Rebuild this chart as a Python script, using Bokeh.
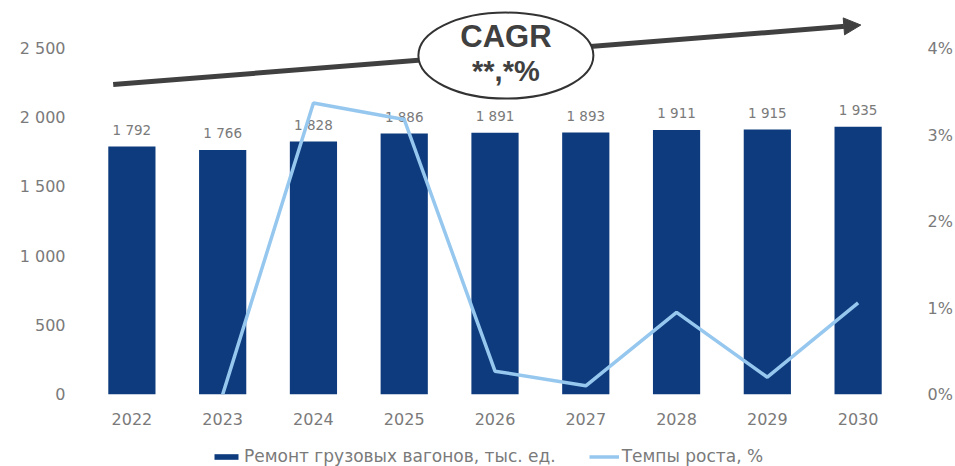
from bokeh.plotting import figure
from bokeh.layouts import column
from bokeh.models import (Range1d, LinearAxis, FixedTicker, Legend, LegendItem,
                          Arrow, NormalHead, ColumnDataSource)
from bokeh.core.properties import value
from bokeh.embed import file_html
from bokeh.resources import INLINE

years = ["2022", "2023", "2024", "2025", "2026", "2027", "2028", "2029", "2030"]
repairs = [1792, 1766, 1828, 1886, 1891, 1893, 1911, 1915, 1935]
growth = [float("nan"), 0.0, 3.37, 3.18, 0.27, 0.10, 0.95, 0.20, 1.06]
left_ticks = [0, 500, 1000, 1500, 2000, 2500]
right_ticks = [0, 1, 2, 3, 4]
bar_name = "Ремонт грузовых вагонов, тыс. ед."
line_name = "Темпы роста, %"
cagr_title = "CAGR"
cagr_value = "**,*%"

BAR = "#0d3b7d"
LINE = "#96c7ee"
GREY = "#7a7a7a"
DARK = "#404040"
FONT = "DejaVu Sans"


def fmt(v):
    return f"{v:,}".replace(",", " ")


p = figure(x_range=years, y_range=Range1d(0, 2775), width=955, height=444,
           output_backend="svg", toolbar_location=None,
           min_border_left=86, min_border_right=43, min_border_top=10,
           min_border_bottom=50)
p.outline_line_color = None
p.xgrid.grid_line_color = None
p.ygrid.grid_line_color = None
p.x_range.range_padding = 0

src = ColumnDataSource(dict(x=years, y=repairs, g=growth,
                            lbl=[fmt(v) for v in repairs]))
bars = p.vbar(x="x", top="y", width=0.52, source=src, fill_color=BAR,
              line_color=None)
p.text(x="x", y="y", text="lbl", source=src, text_align="center",
       text_baseline="middle", y_offset=-17, text_color=GREY,
       text_font=value(FONT), text_font_size="13.5px")

p.extra_y_ranges = {"pct": Range1d(0, 4.44)}
ln = p.line(x="x", y="g", source=src, y_range_name="pct", line_color=LINE,
            line_width=3.5)

ya = p.yaxis[0]
ya.ticker = FixedTicker(ticks=left_ticks)
ya.major_label_overrides = {t: fmt(t) for t in left_ticks}
ra = LinearAxis(y_range_name="pct", ticker=FixedTicker(ticks=right_ticks),
                major_label_overrides={t: f"{t}%" for t in right_ticks})
p.add_layout(ra, "right")

for ax in [ya, ra, p.xaxis[0]]:
    ax.axis_line_color = None
    ax.major_tick_line_color = None
    ax.minor_tick_line_color = None
    ax.major_label_text_color = GREY
    ax.major_label_text_font = FONT
    ax.major_label_text_font_size = "16px"
ya.major_label_standoff = 15
ra.major_label_standoff = 18
p.xaxis[0].major_label_standoff = 12

# CAGR arrow & ellipse
p.add_layout(Arrow(end=NormalHead(size=17, fill_color=DARK, line_color=DARK),
                   x_start=0.294, y_start=2240, x_end=8.53, y_end=2670,
                   line_color=DARK, line_width=5, level="underlay"))
p.ellipse(x=[4.62], y=[2449], width=175, height=86, width_units="screen",
          height_units="screen", fill_color="white", line_color="#333333",
          line_width=2)
p.text(x=[4.62], y=[2586], text=[cagr_title], text_align="center",
       text_baseline="middle", text_color=DARK, text_font=value("Liberation Sans"),
       text_font_size="31px", text_font_style="bold")
p.text(x=[4.62], y=[2340], text=[cagr_value], text_align="center",
       text_baseline="middle", text_color=DARK, text_font=value("Liberation Sans"),
       text_font_size="29px", text_font_style="bold")

# legend in its own strip
lg = figure(width=955, height=22, x_range=Range1d(0, 1), y_range=Range1d(0, 1),
            output_backend="svg", toolbar_location=None, min_border=0)
lg.axis.visible = False
lg.grid.visible = False
lg.outline_line_color = None
lb = lg.vbar(x=[100], top=[0], width=0.5, fill_color=BAR, line_color=None)
ll = lg.line(x=[100, 101], y=[0.5, 0.5], line_color=LINE, line_width=3.5)
legend = Legend(items=[LegendItem(label=bar_name, renderers=[lb]),
                       LegendItem(label=line_name, renderers=[ll])],
                orientation="horizontal", location=(125, 0),
                border_line_color=None, background_fill_alpha=0,
                label_text_color=GREY, label_text_font=FONT,
                label_text_font_size="17px", glyph_width=30, glyph_height=7,
                label_height=18, label_standoff=3, spacing=33, margin=0,
                padding=2)
lg.add_layout(legend)

layout = column(p, lg, spacing=0)
open("out.html", "w").write(file_html(layout, INLINE))
